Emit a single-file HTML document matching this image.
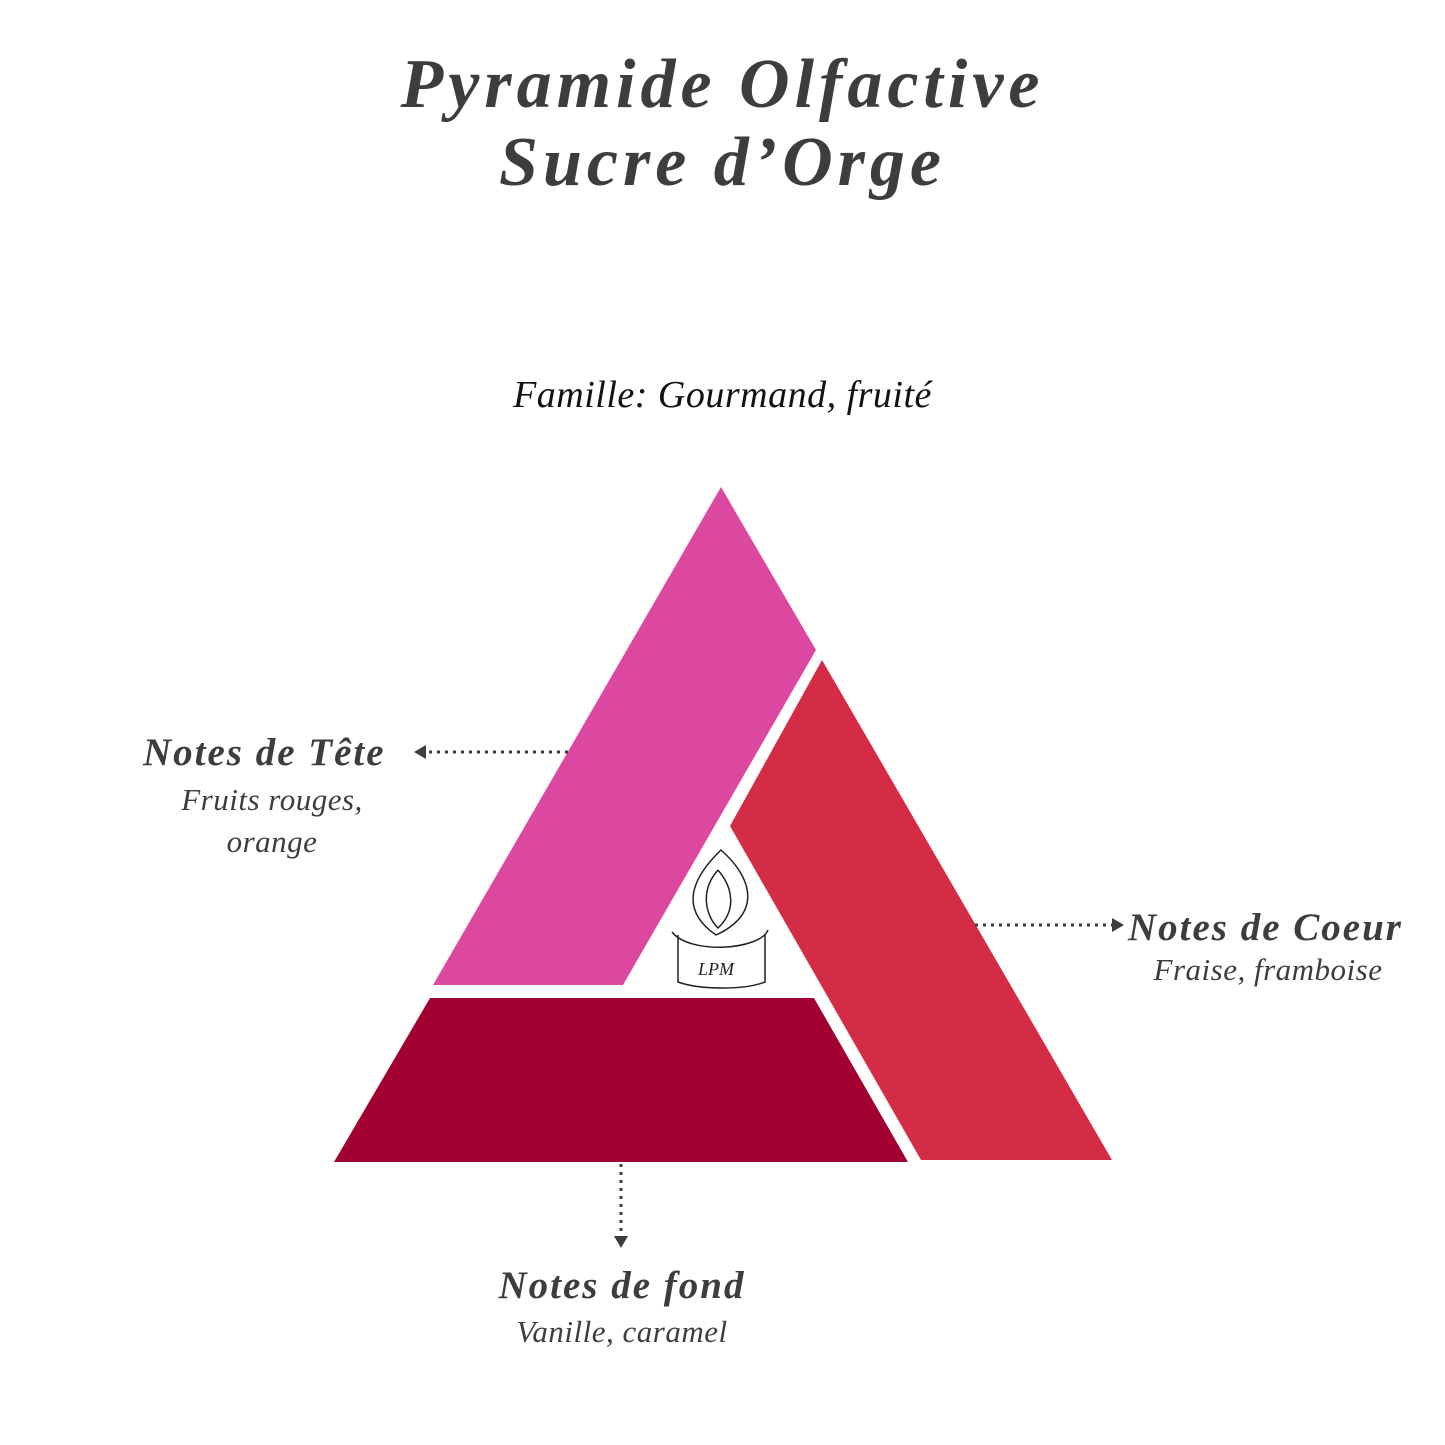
<!DOCTYPE html>
<html><head><meta charset="utf-8"><style>
html,body{margin:0;padding:0;background:#fff;}
body{width:1445px;height:1445px;position:relative;overflow:hidden;font-family:"Liberation Serif","DejaVu Serif",serif;}
.t{position:absolute;left:0;width:1445px;text-align:center;color:#3d3d3d;font-weight:bold;font-style:italic;font-size:70px;letter-spacing:5px;line-height:1;}
.l{position:absolute;color:#3d3d3d;font-style:italic;line-height:1;white-space:nowrap;}
.b{font-weight:bold;font-size:39px;letter-spacing:2px;}
.s{font-size:31px;letter-spacing:0.5px;}
</style></head><body>
<div class="t" style="top:50px">Pyramide Olfactive</div>
<div class="t" style="top:128px">Sucre d’Orge</div>
<div class="l" style="left:0;width:1445px;text-align:center;top:376px;font-size:38px;letter-spacing:0.5px;color:#111">Famille: Gourmand, fruité</div>
<svg width="1445" height="1445" style="position:absolute;left:0;top:0">
<polygon points="721,487 816,650 623,985 433,985" fill="#dc48a0"/>
<polygon points="822,660 1112,1160 921,1160 730,826" fill="#d42c45"/>
<polygon points="430,998 814,998 908,1162 334,1162" fill="#a20030"/>
<g stroke="#3d3d3d" stroke-width="3" stroke-dasharray="3,5" fill="none">
<line x1="568" y1="752" x2="424" y2="752"/>
<line x1="975" y1="925" x2="1114" y2="925"/>
<line x1="621" y1="1164" x2="621" y2="1236"/>
</g>
<polygon points="414,752 426,745 426,759" fill="#3d3d3d"/>
<polygon points="1124,925 1112,918 1112,932" fill="#3d3d3d"/>
<polygon points="621,1248 614,1236 628,1236" fill="#3d3d3d"/>
<g stroke="#222" stroke-width="1.5" fill="none">
<path d="M721,850 C690,880 680,910 716,935 C760,915 755,880 721,850 Z"/>
<path d="M718,870 C700,890 705,915 718,928 C735,912 735,890 718,870"/>
<path d="M678,935 L678,982 C700,990 745,990 765,982 L765,935"/>
<path d="M672,932 C690,955 760,950 768,930"/>
<text x="698" y="975" font-size="18" fill="#222" stroke="none" font-style="italic" font-family="Liberation Serif, serif">LPM</text>
</g>
</svg>
<div class="l b" style="left:143px;top:733px">Notes de Tête</div>
<div class="l s" style="left:172px;width:200px;text-align:center;top:784px">Fruits rouges,</div>
<div class="l s" style="left:172px;width:200px;text-align:center;top:826px">orange</div>
<div class="l b" style="left:1128px;top:908px">Notes de Coeur</div>
<div class="l s" style="left:1128px;width:280px;text-align:center;top:954px">Fraise, framboise</div>
<div class="l b" style="left:422px;width:400px;text-align:center;top:1266px">Notes de fond</div>
<div class="l s" style="left:422px;width:400px;text-align:center;top:1316px">Vanille, caramel</div>
</body></html>
